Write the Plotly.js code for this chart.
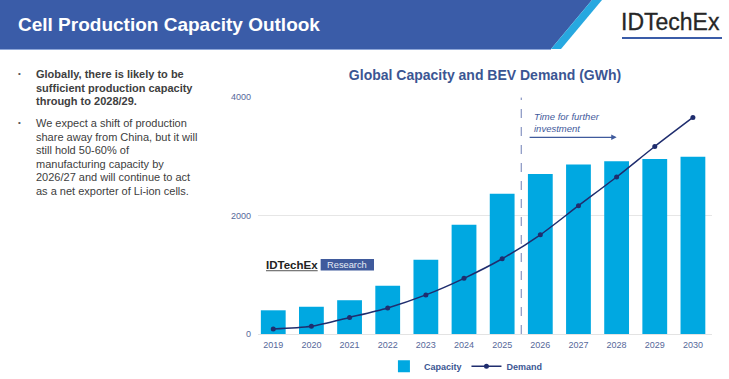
<!DOCTYPE html>
<html>
<head>
<meta charset="utf-8">
<script src="https://cdn.plot.ly/plotly-3.0.1.min.js"></script>
<style>
  html, body { margin: 0; padding: 0; background: #ffffff; }
  #wrap { position: relative; width: 729px; height: 379px; overflow: hidden; font-family: "Liberation Sans", Arial, sans-serif; }
  #chart { position: absolute; left: 0; top: 0; width: 729px; height: 379px; }
  #banner { position: absolute; left: 0; top: 0; z-index: 2; }
  #htitle { position: absolute; left: 18px; top: 14px; z-index: 3; color: #ffffff; font-weight: bold; font-size: 19px; line-height: 22px; white-space: nowrap; }
  #logo { position: absolute; left: 621px; top: 9px; z-index: 3; color: #262626; font-size: 23px; line-height: 26px; white-space: nowrap; letter-spacing: 0px; -webkit-text-stroke: 0.3px #262626; }
  #logoline { position: absolute; left: 622px; top: 37px; width: 100px; height: 2px; background: #3a5ca8; z-index: 3; }
  .bul { position: absolute; z-index: 3; font-size: 11px; line-height: 13.5px; color: #404040; white-space: nowrap; }
  .dot { position: absolute; z-index: 3; font-size: 8px; color: #555; }
</style>
</head>
<body>
<div id="wrap">
  <div id="chart"></div>
  <svg id="banner" width="729" height="52">
    <polygon points="0,0 592,0 551,49 0,49" fill="#3a5ca8"/>
    <polygon points="592,0 602,0 561,49 551,49" fill="#27a8e0"/>
    <line x1="0" y1="49.5" x2="551" y2="49.5" stroke="#8ea6d8" stroke-width="1"/>
  </svg>
  <div id="htitle">Cell Production Capacity Outlook</div>
  <div id="logo">IDTechEx</div>
  <div id="logoline"></div>
  <div class="dot" style="left:18px; top:69px;">•</div>
  <div class="bul" style="left:36px; top:68px; font-weight:bold;">Globally, there is likely to be<br>sufficient production capacity<br>through to 2028/29.</div>
  <div class="dot" style="left:18px; top:118px;">•</div>
  <div class="bul" style="left:36px; top:117px;">We expect a shift of production<br>share away from China, but it will<br>still hold 50-60% of<br>manufacturing capacity by<br>2026/27 and will continue to act<br>as a net exporter of Li-ion cells.</div>
</div>
<script>
const years = ['2019','2020','2021','2022','2023','2024','2025','2026','2027','2028','2029','2030'];
const capacity = [400, 460, 570, 815, 1255, 1845, 2365, 2700, 2860, 2915, 2955, 2990];
const demand = [85, 130, 280, 440, 660, 940, 1270, 1675, 2165, 2650, 3165, 3655];
const yTicks = [0, 2000, 4000];
const forecastStart = 6.5; // between 2025 and 2026

const traces = [
  {
    type: 'bar', name: 'Capacity', x: years, y: capacity,
    marker: { color: '#00a8e1' }, hoverinfo: 'x+y'
  },
  {
    type: 'scatter', mode: 'lines+markers', name: 'Demand', x: years, y: demand,
    line: { color: '#1f2d6e', width: 1.5, shape: 'spline', smoothing: 0.8 },
    marker: { color: '#1f2d6e', size: 5 }
  }
];

const layout = {
  width: 729, height: 379,
  margin: { l: 258, r: 17, t: 97, b: 45, autoexpand: false },
  paper_bgcolor: '#ffffff', plot_bgcolor: '#ffffff',
  font: { family: 'Liberation Sans, Arial, sans-serif', color: '#56689a' },
  bargap: 0.35,
  title: {
    text: '<b>Global Capacity and BEV Demand (GWh)</b>',
    font: { size: 14, color: '#3b5693' },
    x: 0.5, xref: 'paper', xanchor: 'center',
    y: 1 - 75 / 379, yref: 'container', yanchor: 'middle'
  },
  xaxis: {
    type: 'category', range: [-0.4, 11.5], automargin: false,
    showgrid: false, showline: false, zeroline: false, ticks: '', ticklabelstandoff: 4,
    tickfont: { size: 9, color: '#56689a' }, fixedrange: true
  },
  yaxis: {
    range: [0, 4000], tickvals: yTicks, ticktext: yTicks.map(String), automargin: false,
    showgrid: true, gridcolor: '#e6e6e6', gridwidth: 1,
    zeroline: true, zerolinecolor: '#e3e3e3', zerolinewidth: 1,
    showline: false, ticks: '', ticklabelstandoff: 6,
    tickfont: { size: 9, color: '#56689a' }, fixedrange: true
  },
  showlegend: true,
  legend: {
    orientation: 'h', x: 0.458, xanchor: 'center', y: -0.136, yanchor: 'middle',
    font: { size: 9, color: '#3b5693', weight: 'bold' }, bgcolor: 'rgba(0,0,0,0)'
  },
  shapes: [
    { type: 'line', xref: 'x', yref: 'y', x0: forecastStart, x1: forecastStart, y0: 0, y1: 3990,
      line: { color: '#6f7fb5', width: 1, dash: 'dash' }, layer: 'above' },
    { type: 'rect', xref: 'paper', yref: 'paper', x0: 0.138, x1: 0.2555, y0: 0.2677, y1: 0.3169,
      fillcolor: '#3f5a9c', line: { width: 0 }, layer: 'above' },
    { type: 'line', xref: 'paper', yref: 'paper', x0: 0.0176, x1: 0.1315, y0: 0.267, y1: 0.267,
      line: { color: '#555555', width: 1 }, layer: 'above' }
  ],
  annotations: [
    { xref: 'x', yref: 'y', x: 6.78, y: 3566, xanchor: 'left', yanchor: 'middle', align: 'left',
      text: '<i>Time for further<br>investment</i>', showarrow: false,
      font: { size: 9.5, color: '#3f5a9c' } },
    { xref: 'x', yref: 'y', x: 9.0, y: 3320, ax: 6.68, ay: 3320, axref: 'x', ayref: 'y',
      text: '', showarrow: true, arrowhead: 2, arrowsize: 0.9, arrowwidth: 1.2, arrowcolor: '#3f5a9c' },
    { xref: 'paper', yref: 'paper', x: 0.0746, y: 0.2917, xanchor: 'center', yanchor: 'middle',
      text: '<b>IDTechEx</b>', showarrow: false, font: { size: 11.5, color: '#222222' } },
    { xref: 'paper', yref: 'paper', x: 0.1967, y: 0.292, xanchor: 'center', yanchor: 'middle',
      text: 'Research', showarrow: false, font: { size: 9.3, color: '#e6ebf5' } }
  ]
};

Plotly.newPlot('chart', traces, layout, { displayModeBar: false, staticPlot: true });
</script>
</body>
</html>
